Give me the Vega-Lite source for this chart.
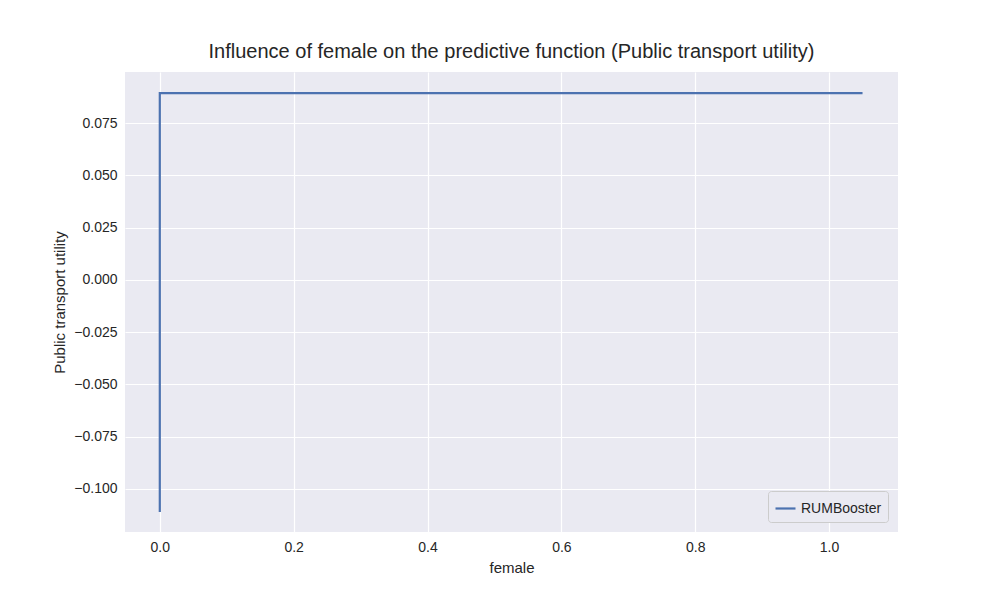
{
  "$schema": "https://vega.github.io/schema/vega-lite/v6.json",
  "width": 773,
  "height": 460,
  "autosize": "none",
  "padding": {"left": 125, "top": 72, "right": 102, "bottom": 68},
  "background": "white",
  "title": {"text": "Influence of female on the predictive function (Public transport utility)", "fontSize": 20, "fontWeight": "normal", "font": "Liberation Sans", "color": "#262626", "offset": 10},
  "data": {"values": [
    {"female": 0, "utility": -0.111, "order": 0, "model": "RUMBooster"},
    {"female": 0, "utility": 0.0893, "order": 1, "model": "RUMBooster"},
    {"female": 1.05, "utility": 0.0893, "order": 2, "model": "RUMBooster"}
  ]},
  "mark": {"type": "line", "strokeWidth": 2.2, "clip": true},
  "encoding": {
    "x": {"field": "female", "type": "quantitative", "title": "female",
      "scale": {"domain": [-0.052, 1.103], "nice": false, "zero": false},
      "axis": {"values": [0, 0.2, 0.4, 0.6, 0.8, 1.0], "format": ".1f"}},
    "y": {"field": "utility", "type": "quantitative", "title": "Public transport utility",
      "scale": {"domain": [-0.1206, 0.0994], "nice": false, "zero": false},
      "axis": {"values": [-0.1, -0.075, -0.05, -0.025, 0, 0.025, 0.05, 0.075], "format": ".3f"}},
    "order": {"field": "order"},
    "color": {"field": "model", "type": "nominal", "scale": {"range": ["#4c72b0"]},
      "legend": {"title": null, "orient": "bottom-right", "symbolType": "stroke", "symbolStrokeWidth": 2.2, "symbolSize": 400, "labelFontSize": 14, "labelFont": "Liberation Sans", "labelColor": "#262626", "fillColor": "#eaeaf2", "strokeColor": "#cccccc", "padding": 6, "cornerRadius": 3, "offset": 10}}
  },
  "config": {
    "view": {"fill": "#eaeaf2", "stroke": null},
    "axis": {"grid": true, "gridColor": "white", "gridWidth": 1.2, "domain": false, "ticks": false,
      "labelFont": "Liberation Sans", "labelFontSize": 14, "labelColor": "#262626", "labelPadding": 8,
      "titleFont": "Liberation Sans", "titleFontSize": 15, "titleFontWeight": "normal", "titleColor": "#262626", "titlePadding": 6}
  }
}
